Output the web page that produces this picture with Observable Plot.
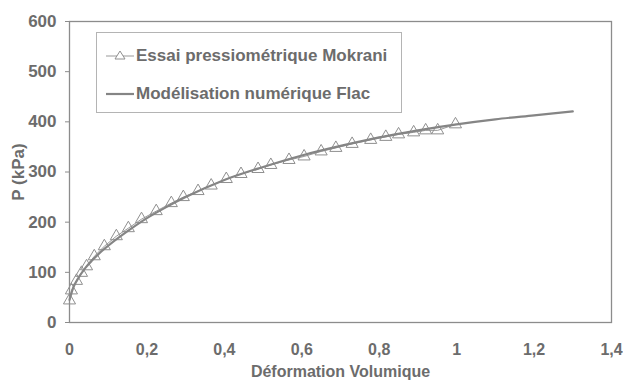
<!DOCTYPE html>
<html><head><meta charset="utf-8">
<script src="https://cdn.jsdelivr.net/npm/d3@7"></script>
<script src="https://cdn.jsdelivr.net/npm/@observablehq/plot@0.6"></script>
<style>
body{margin:0;background:#fff;}
#wrap{position:relative;width:623px;height:380px;font-family:"Liberation Sans",Arial,sans-serif;font-weight:bold;color:#6c6c6c;}
.legend{position:absolute;left:96px;top:32px;width:306px;height:81px;border:1px solid #b4b4b4;box-sizing:border-box;background:#fff;}
.item{position:absolute;left:9px;display:flex;align-items:center;font-size:17px;white-space:nowrap;height:20px;}
.item svg{margin-right:2px;}
</style></head><body><div id="wrap"></div>
<script>
const seriesNames = ["Essai pressiométrique Mokrani", "Modélisation numérique Flac"];
// Essai pressiométrique (triangles)
const expX = [0, 0.005, 0.018, 0.031, 0.044, 0.064, 0.09, 0.121, 0.152, 0.186, 0.224, 0.263, 0.294, 0.332, 0.366, 0.405, 0.443, 0.487, 0.52, 0.567, 0.606, 0.65, 0.688, 0.73, 0.778, 0.817, 0.85, 0.889, 0.92, 0.951, 0.997];
const expP = [44, 64, 83, 99, 112, 132, 152, 172, 188, 206, 222, 238, 250, 262, 273, 286, 296, 306, 314, 324, 331, 341, 348, 356, 364, 370, 375, 379, 383, 383, 395];
// Modélisation numérique Flac (line)
const modX = [0, 0.01, 0.02, 0.04, 0.06, 0.08, 0.1, 0.15, 0.2, 0.25, 0.3, 0.4, 0.5, 0.6, 0.7, 0.8, 0.9, 1.0, 1.1, 1.2, 1.3];
const modP = [45, 70, 85, 108, 125, 140, 153, 182, 208, 230, 250, 284, 310, 333, 352, 369, 383, 395, 405, 413, 421];
const xTicks = [0, 0.2, 0.4, 0.6, 0.8, 1, 1.2, 1.4];
const yTicks = [0, 100, 200, 300, 400, 500, 600];

const exp = expX.map((x, i) => ({x, p: expP[i]}));
const mod = modX.map((x, i) => ({x, p: modP[i]}));
const grey = "#6c6c6c";
const fmt = d => String(d).replace(".", ",");

const chart = Plot.plot({
  width: 623, height: 380,
  marginLeft: 69, marginRight: 12, marginTop: 21, marginBottom: 58,
  style: {fontFamily: '"Liberation Sans", Arial, sans-serif', fontWeight: "bold", fontSize: "16px", color: grey, background: "#fff"},
  x: {domain: [0, 1.4]},
  y: {domain: [0, 600]},
  marks: [
    Plot.frame({stroke: "#8c8c8c", strokeWidth: 1.3}),
    Plot.axisY({ticks: yTicks, tickSize: 4, tickPadding: 9, stroke: "#8c8c8c", fill: grey, fontSize: 17,
      label: "P (kPa)", labelAnchor: "center", labelOffset: 58, labelArrow: "none"}),
    Plot.axisX({ticks: xTicks, tickFormat: fmt, tickSize: 0, tickPadding: 21, fill: grey, fontSize: 16,
      label: "Déformation Volumique", labelAnchor: "center", labelOffset: 54, labelArrow: "none"}),
    Plot.line(exp, {x: "x", y: "p", stroke: "#999", strokeWidth: 1}),
    Plot.dot(exp, {x: "x", y: "p", symbol: "triangle", r: 4.5, stroke: "#8f8f8f", strokeWidth: 1, fill: "none"}),
    Plot.line(mod, {x: "x", y: "p", stroke: "#858585", strokeWidth: 2.2, curve: "monotone-x"})
  ]
});
const wrap = document.getElementById("wrap");
wrap.appendChild(chart);

const legend = document.createElement("div");
legend.className = "legend";
legend.innerHTML = `
<div class="item" style="top:13px"><svg width="28" height="14"><line x1="0" y1="7" x2="28" y2="7" stroke="#999" stroke-width="1"/><path d="M14,2 L19,10 L9,10 Z" fill="#fff" stroke="#8f8f8f"/></svg>${seriesNames[0]}</div>
<div class="item" style="top:51px"><svg width="28" height="14"><line x1="0" y1="7" x2="28" y2="7" stroke="#858585" stroke-width="2.2"/></svg>${seriesNames[1]}</div>`;
wrap.appendChild(legend);
</script>
</body></html>
